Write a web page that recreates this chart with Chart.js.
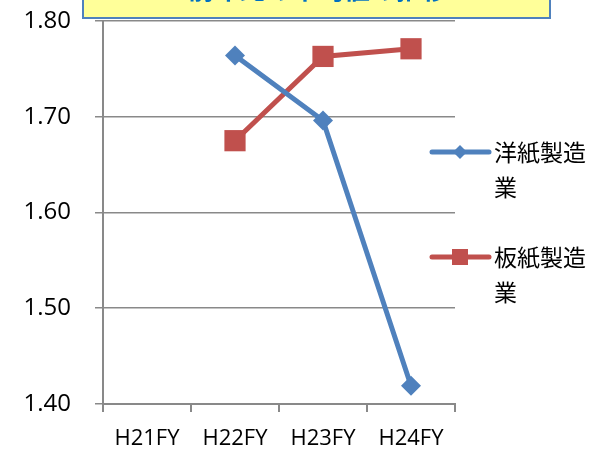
<!DOCTYPE html>
<html>
<head>
<meta charset="utf-8">
<script src="https://cdn.jsdelivr.net/npm/chart.js@4/dist/chart.umd.min.js"></script>
<style>
  body { margin: 0; background: #fff; }
  #wrap { width: 596px; height: 449px; }
</style>
</head>
<body>
<div id="wrap"><canvas id="chart"></canvas></div>
<script>
let years = ['H21FY', 'H22FY', 'H23FY', 'H24FY'];
let yoshi = [null, 1.764, 1.696, 1.419];
let itagami = [null, 1.675, 1.763, 1.771];
let yTicks = [1.40, 1.50, 1.60, 1.70, 1.80];
let seriesNames = [['洋紙製造', '業'], ['板紙製造', '業']];
let titleText = '前年比の平均値の推移';

const blue = '#4F81BD';
const red = '#C0504D';
const grey = '#898989';

// title box cut by the top edge, and the wrapped legend on the right
const decor = {
    id: 'decor',
    afterDraw(chart) {
        let ctx = chart.ctx;
        ctx.save();
        ctx.fillStyle = '#FFFF99';
        ctx.fillRect(83, -5, 467, 23);
        ctx.strokeStyle = blue;
        ctx.lineWidth = 2;
        ctx.strokeRect(83, -5, 467, 23);
        ctx.fillStyle = '#0070C0';
        ctx.font = 'bold 26px "Noto Sans CJK JP"';
        ctx.textAlign = 'center';
        ctx.textBaseline = 'alphabetic';
        ctx.fillText(titleText, 318, -1);

        let rows = [{ y: 152, color: blue, shape: 'diamond' }, { y: 257, color: red, shape: 'square' }];
        rows.forEach((r, i) => {
            ctx.strokeStyle = r.color;
            ctx.lineWidth = 5;
            ctx.lineCap = 'round';
            ctx.beginPath();
            ctx.moveTo(432, r.y);
            ctx.lineTo(489, r.y);
            ctx.stroke();
            ctx.fillStyle = r.color;
            if (r.shape === 'diamond') {
                ctx.beginPath();
                ctx.moveTo(460, r.y - 7);
                ctx.lineTo(467, r.y);
                ctx.lineTo(460, r.y + 7);
                ctx.lineTo(453, r.y);
                ctx.closePath();
                ctx.fill();
            } else {
                ctx.fillRect(452, r.y - 8, 16, 16);
            }
            ctx.fillStyle = '#000';
            ctx.font = '23px "Noto Sans CJK JP"';
            ctx.textAlign = 'left';
            ctx.textBaseline = 'middle';
            ctx.fillText(seriesNames[i][0], 494, r.y);
            ctx.fillText(seriesNames[i][1], 494, r.y + 35);
        });
        ctx.restore();
    }
};

let canvas = document.getElementById('chart');
let config = {
    type: 'line',
    data: {
        labels: years,
        datasets: [{
            label: seriesNames[0].join(''),
            data: yoshi,
            borderColor: blue,
            backgroundColor: blue,
            borderWidth: 5,
            pointStyle: 'rectRot',
            pointRadius: 10,
            pointHoverRadius: 10,
            pointBorderWidth: 0
        }, {
            label: seriesNames[1].join(''),
            data: itagami,
            borderColor: red,
            backgroundColor: red,
            borderWidth: 5,
            pointStyle: 'rect',
            pointRadius: 15,
            pointHoverRadius: 15,
            pointBorderWidth: 0
        }]
    },
    options: {
        responsive: true,
        maintainAspectRatio: false,
        animation: false,
        layout: { padding: { top: 21, right: 141, left: 0, bottom: 0 } },
        plugins: {
            legend: { display: false },
            tooltip: { enabled: false }
        },
        scales: {
            x: {
                offset: true,
                grid: { display: true, drawOnChartArea: false, drawTicks: true, tickLength: 8, color: grey, lineWidth: 2, offset: true },
                border: { color: grey, width: 2 },
                ticks: { color: '#000', font: { family: 'Open Sans', size: 22 }, padding: 14, maxRotation: 0 },
                afterFit(scale) {
                    scale.height = 45;
                    scale.paddingLeft = 0;
                    scale.paddingRight = 0;
                }
            },
            y: {
                min: 1.40,
                max: 1.80,
                afterBuildTicks(scale) { scale.ticks = yTicks.map(v => ({ value: v })); },
                grid: { color: grey, lineWidth: 1.5, tickLength: 8 },
                border: { color: grey, width: 2 },
                ticks: {
                    color: '#000',
                    font: { family: 'Open Sans', size: 24 },
                    padding: 24,
                    callback: v => v.toFixed(2)
                },
                afterFit(scale) {
                    scale.width = 103;
                    scale.paddingTop = 0;
                    scale.paddingBottom = 0;
                }
            }
        }
    },
    plugins: [decor]
};

let chart = new Chart(canvas, config);
</script>
</body>
</html>
